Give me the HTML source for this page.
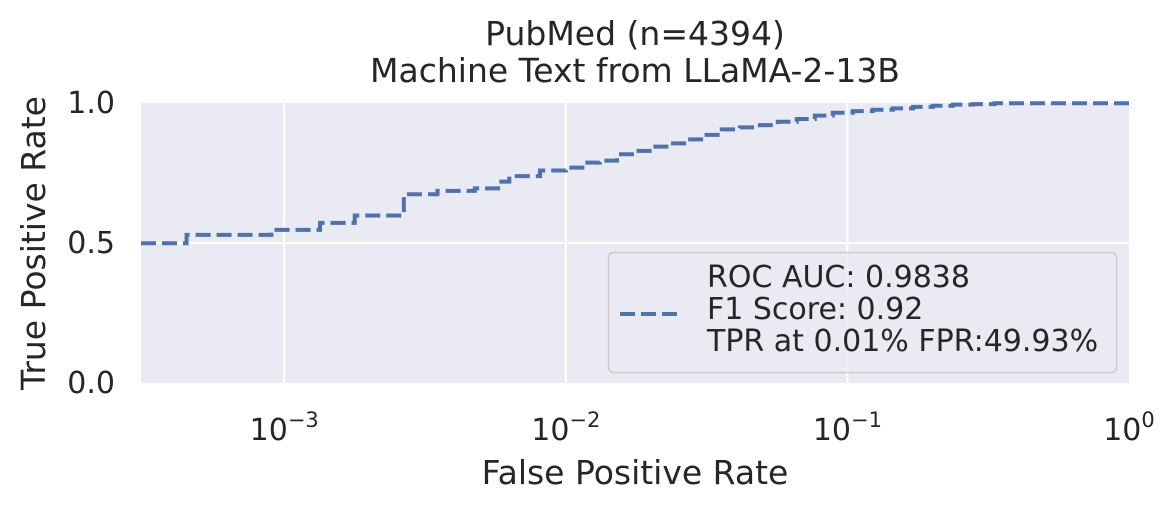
<!DOCTYPE html>
<html><head><meta charset="utf-8"><style>
body{margin:0;background:#fff;width:1176px;height:511px;overflow:hidden}
text{font-family:"DejaVu Sans","Liberation Sans",sans-serif;fill:#262626}
</style></head><body>
<svg width="1176" height="511" id="svg">
<text x="635" y="45" text-anchor="middle" font-size="33">PubMed (n=4394)</text>
<text x="635" y="82" text-anchor="middle" font-size="33">Machine Text from LLaMA-2-13B</text>
<rect x="141" y="103" width="988" height="280" fill="#eaeaf2"/>
<g id="grid"></g>
<g id="ticks"></g>
<path id="curve" fill="none" stroke="#4c72b0" stroke-width="4" stroke-dasharray="15,6"/>
<text x="635" y="484" text-anchor="middle" font-size="33">False Positive Rate</text>
<text transform="translate(45,243) rotate(-90)" text-anchor="middle" font-size="33">True Positive Rate</text>
<g>
<rect x="608.5" y="252.5" width="508" height="120" rx="5" fill="#eaeaf2" stroke="#cccccc" stroke-width="1.5" fill-opacity="0.8"/>
<line x1="620" y1="314" x2="682" y2="314" stroke="#4c72b0" stroke-width="4" stroke-dasharray="15,6"/>
<text x="707" y="287" font-size="30">ROC AUC: 0.9838</text>
<text x="707" y="319" font-size="30">F1 Score: 0.92</text>
<text x="707" y="351" font-size="30">TPR at 0.01% FPR:49.93%</text>
</g>
</svg>
<script>
const fprValues=[0.0003,0.00045,0.0009,0.00134,0.00178,0.00266,0.0035,0.00475,0.0059,0.0063,0.0081,0.01,0.0117,0.0132,0.0152,0.0176,0.0204,0.0234,0.0271,0.0311,0.0358,0.0415,0.0489,0.0566,0.0661,0.0766,0.0887,0.1045,0.123,0.145,0.171,0.201,0.237,0.279,0.333,1.0];
const tprValues=[0.499,0.529,0.547,0.572,0.598,0.674,0.686,0.695,0.719,0.739,0.759,0.769,0.787,0.794,0.817,0.829,0.844,0.856,0.870,0.886,0.906,0.913,0.921,0.933,0.943,0.955,0.965,0.971,0.976,0.981,0.986,0.990,0.994,0.996,0.999,1.0];
const xTickExps=[-3,-2,-1,0];
const yTickVals=[0.0,0.5,1.0];
const X0=141,X1=1129,Y0=383,Y1=103,LMIN=Math.log10(0.00031),LMAX=0;
const xs=v=>X0+(Math.log10(Math.max(v,0.00031))-LMIN)/(LMAX-LMIN)*(X1-X0);
const ys=v=>Y0-v*(Y0-Y1);
const NS="http://www.w3.org/2000/svg";
const grid=document.getElementById('grid'),ticks=document.getElementById('ticks');
xTickExps.forEach(e=>{
 const x=xs(Math.pow(10,e));
 if(x<X1-1){const l=document.createElementNS(NS,'line');
 l.setAttribute('x1',x);l.setAttribute('x2',x);l.setAttribute('y1',Y1);l.setAttribute('y2',Y0);
 l.setAttribute('stroke','#fff');l.setAttribute('stroke-width','2');
 
 
 grid.appendChild(l);}
 const t=document.createElementNS(NS,'text');
 t.setAttribute('x',x);t.setAttribute('y',440);t.setAttribute('text-anchor','middle');t.setAttribute('font-size','30');
 t.innerHTML='10<tspan dy="-13" font-size="21">'+(e<0?'\u2212'+(-e):e)+'</tspan>';
 
 
 ticks.appendChild(t);
});
yTickVals.forEach(v=>{
 const y=ys(v);
 if(v>0&&v<1){const l=document.createElementNS(NS,'line');
 l.setAttribute('x1',X0);l.setAttribute('x2',X1);l.setAttribute('y1',y);l.setAttribute('y2',y);
 l.setAttribute('stroke','#fff');l.setAttribute('stroke-width','2');
 
 
 grid.appendChild(l);}
 const t=document.createElementNS(NS,'text');
 t.setAttribute('x',115);t.setAttribute('y',y+10);t.setAttribute('text-anchor','end');t.setAttribute('font-size','30');
 t.textContent=v.toFixed(1);
 
 
 ticks.appendChild(t);
});
let d='M'+X0+','+ys(tprValues[0]);
for(let i=1;i<fprValues.length;i++){
 d+=' H'+xs(fprValues[i])+' V'+ys(tprValues[i]);
}
d+=' H'+X1;
document.getElementById('curve').setAttribute('d',d);
</script>
</body></html>
